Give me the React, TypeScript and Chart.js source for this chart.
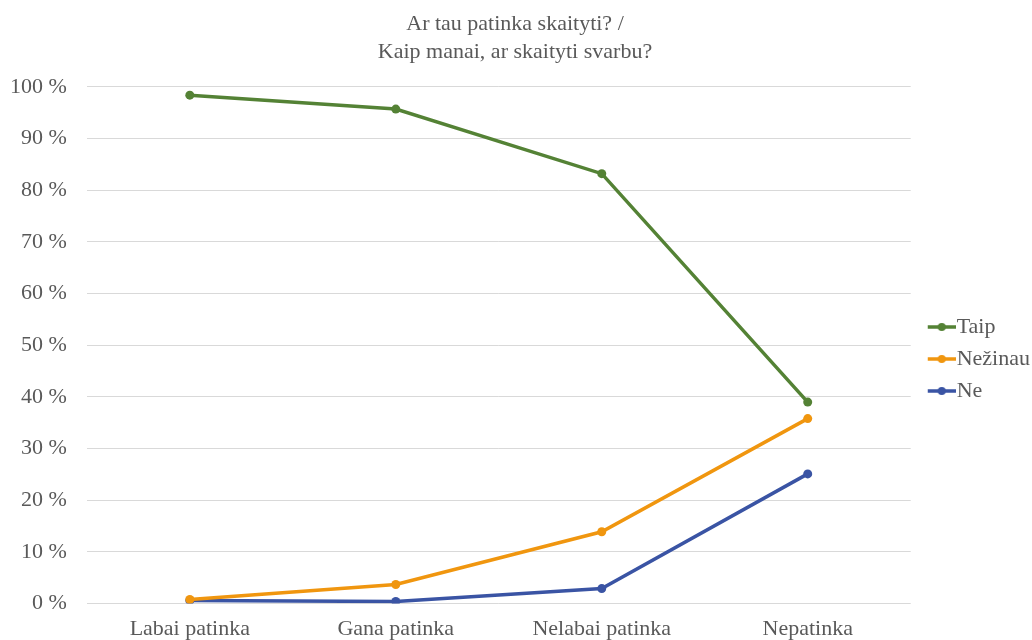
import React, { useEffect, useRef } from "react";
import { Chart, registerables } from "chart.js";

Chart.register(...registerables);

const categories = ["Labai patinka", "Gana patinka", "Nelabai patinka", "Nepatinka"];
const taip = [98.4, 95.7, 83.2, 39.0];
const nezinau = [0.8, 3.7, 13.9, 35.8];
const ne = [0.6, 0.4, 2.9, 25.1];
const seriesNames = ["Taip", "Nežinau", "Ne"];
const seriesColors = ["#548235", "#F0960F", "#3A54A4"];
const titleLines = ["Ar tau patinka skaityti? /", "Kaip manai, ar skaityti svarbu?"];

const FONT = "'Liberation Serif', 'Times New Roman', serif";

function legendIcon(color: string): HTMLCanvasElement {
  const c = document.createElement("canvas");
  c.width = 45;
  c.height = 10;
  const ctx = c.getContext("2d")!;
  const x0 = 17;
  ctx.strokeStyle = color;
  ctx.lineWidth = 3.5;
  ctx.beginPath();
  ctx.moveTo(x0, 5);
  ctx.lineTo(x0 + 28, 5);
  ctx.stroke();
  ctx.fillStyle = color;
  ctx.beginPath();
  ctx.arc(x0 + 14, 5, 4, 0, Math.PI * 2);
  ctx.fill();
  return c;
}

export default function App() {
  const ref = useRef<HTMLCanvasElement>(null);
  useEffect(() => {
    document.body.style.margin = "0";
    const values = [taip, nezinau, ne];
    const chart = new Chart(ref.current!, {
      type: "line",
      data: {
        labels: categories,
        datasets: values.map((v, i) => ({
          label: seriesNames[i],
          data: v,
          borderColor: seriesColors[i],
          backgroundColor: seriesColors[i],
          borderWidth: 3.5,
          pointRadius: 4.5,
          pointHoverRadius: 4.5,
          pointBackgroundColor: seriesColors[i],
          pointBorderWidth: 0,
          tension: 0,
        })),
      },
      options: {
        animation: false,
        responsive: false,
        layout: { padding: { left: -10, right: -8, top: 0, bottom: -14 } },
        plugins: {
          title: {
            display: true,
            text: titleLines,
            color: "#595959",
            font: { family: FONT, size: 22, weight: "normal", lineHeight: 1.27 },
            padding: { top: 10, bottom: 21 },
          },
          legend: {
            position: "right",
            align: "center",
            title: {
              display: true,
              text: " ",
              font: { size: 10 },
              padding: { top: 0, bottom: 52 },
            },
            labels: {
              usePointStyle: true,
              pointStyleWidth: 25,
              color: "#595959",
              font: { family: FONT, size: 22 },
              padding: 10,
              boxHeight: 10,
              generateLabels: (ch) =>
                ch.data.datasets.map((d, i) => ({
                  text: d.label as string,
                  fillStyle: seriesColors[i],
                  strokeStyle: seriesColors[i],
                  lineWidth: 0,
                  pointStyle: legendIcon(seriesColors[i]),
                  hidden: false,
                  datasetIndex: i,
                  fontColor: "#595959",
                })),
            },
          },
          tooltip: { enabled: false },
        },
        scales: {
          x: {
            offset: true,
            grid: { display: false, drawTicks: false },
            border: { display: false },
            ticks: {
              color: "#595959",
              font: { family: FONT, size: 22 },
              padding: 12,
              maxRotation: 0,
            },
          },
          y: {
            min: 0,
            max: 100,
            grid: { color: "#D9D9D9", drawTicks: false, lineWidth: 1 },
            border: { display: false },
            ticks: {
              stepSize: 10,
              color: "#595959",
              font: { family: FONT, size: 22 },
              padding: 20,
              callback: (v) => `${v} %`,
            },
          },
        },
      },
    });
    return () => chart.destroy();
  }, []);
  return (
    <div style={{ width: 1032, height: 640 }}>
      <canvas ref={ref} width={1032} height={640} style={{ display: "block" }} />
    </div>
  );
}
